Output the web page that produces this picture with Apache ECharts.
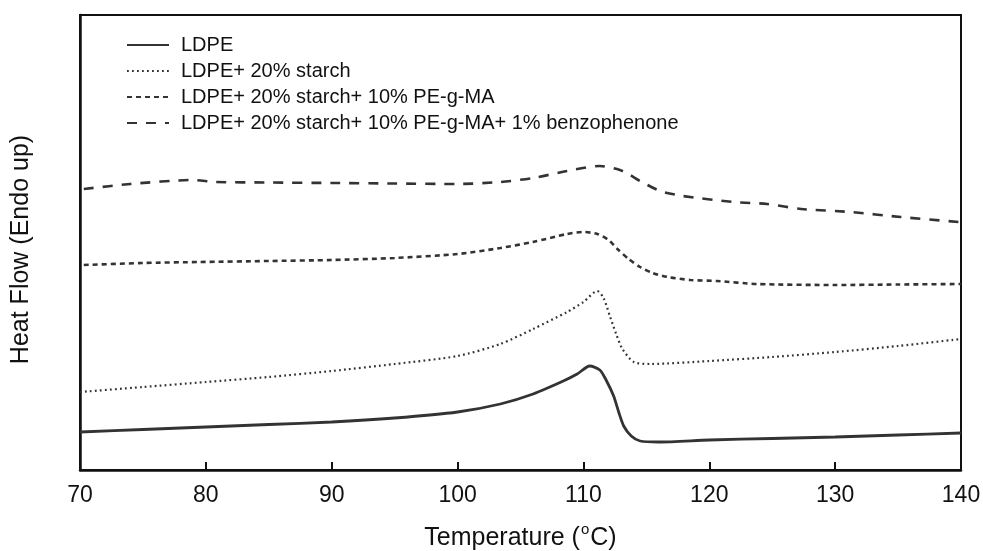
<!DOCTYPE html>
<html>
<head>
<meta charset="utf-8">
<script src="https://cdn.jsdelivr.net/npm/echarts@6/dist/echarts.min.js"></script>
<style>html,body{margin:0;padding:0;background:#fff}#c{width:983px;height:551px}</style>
</head>
<body>
<div id="c"></div>
<script>
const seriesNames = [
  'LDPE',
  'LDPE+ 20% starch',
  'LDPE+ 20% starch+ 10% PE-g-MA',
  'LDPE+ 20% starch+ 10% PE-g-MA+ 1% benzophenone'
];
const xTicks = [70, 80, 90, 100, 110, 120, 130, 140];

// [temperature (°C), heat flow (arbitrary units, endo up)]
const ldpe = [
  [70,38],[75,40.5],[80,43],[85,45.5],[90,48],[95,52],[100,58],[103.4,66],[106,76],
  [108.4,89],[109.5,96],[110.5,104],[111.3,100],[111.8,90],[112.4,74],[112.8,58],
  [113.2,44],[113.8,34],[114.5,29],[116,28],[120,30],[125,31.5],[130,33],[135,35],[140,37]
];
const starch = [
  [70,78],[75,83],[80,88],[85,93],[90,99],[95,106],[100,114],[103.4,126],[106,141],
  [108.7,158],[110,168],[111.1,179],[111.6,172],[112.1,154],[112.6,136],[113.1,121],
  [114,108],[115.3,106],[120,109],[125,113],[130,118],[135,124],[140,131]
];
const pegma = [
  [70.3,205],[75,207],[79.5,208],[85,209],[90,210],[95,212],[100,216],[103.4,222],[106,228],
  [108.7,236],[110,238],[111.1,236],[112,230],[112.7,221],[113.6,211],[114.5,203],
  [115.5,197],[116.7,193],[118.5,190],[120.6,189],[123.8,186],[130,185],[135,185.5],[140,186]
];
const benzo = [
  [70.3,281],[74,286],[78.9,290],[80.8,288],[85,287.5],[90,287],[95,286.5],[100,286],
  [103.4,288],[106,292],[108.7,299],[111.3,304],[112.9,300],[113.7,295],[114.5,289],
  [116.1,279],[117.9,274],[121.9,268],[124.6,266],[127.3,261],[131.2,258],[135.2,253],[139.8,248]
];

const dataSets = [ldpe, starch, pegma, benzo];
const styles = [
  {type:'solid', width:2.8, color:'#333'},
  {type:[1.8,3.2], width:2.2, color:'#333'},
  {type:[5,4], width:2.6, color:'#333'},
  {type:[10,9], width:2.6, color:'#333'}
];
const FONT = 'Liberation Sans, Arial, sans-serif';

const chart = echarts.init(document.getElementById('c'));
chart.setOption({
  animation: false,
  backgroundColor: '#fff',
  grid: {left: 80, right: 22, top: 15, bottom: 81, show: true, borderColor: '#111', borderWidth: 2,
    containLabel: false, outerBoundsMode: 'none'},
  legend: {
    orient: 'vertical', left: 121, top: 30, itemWidth: 42, itemHeight: 14, itemGap: 6,
    itemStyle: {opacity: 0},
    textStyle: {fontFamily: FONT, fontSize: 20, color: '#111', padding: [0, 0, 0, 7]},
    data: seriesNames
  },
  xAxis: {
    type: 'value', min: 70, max: 140, interval: 10,
    name: 'Temperature ({sup|o}C)',
    nameLocation: 'middle', nameGap: 52, nameMoveOverlap: false,
    nameTextStyle: {fontFamily: FONT, fontSize: 25, color: '#111',
      rich: {sup: {fontFamily: FONT, fontSize: 15, color: '#111', verticalAlign: 'top', padding: [0, 1, 18, 1]}}},
    axisLine: {lineStyle: {color: '#111', width: 2.5}},
    axisTick: {inside: true, length: 8, lineStyle: {color: '#111', width: 2}},
    axisLabel: {fontFamily: FONT, fontSize: 23, color: '#111', margin: 14,
      formatter: v => xTicks.includes(v) ? String(v) : ''},
    splitLine: {show: false}
  },
  yAxis: {
    type: 'value', min: 0, max: 455,
    name: 'Heat Flow (Endo up)',
    nameLocation: 'middle', nameGap: 46, nameMoveOverlap: false,
    nameTextStyle: {fontFamily: FONT, fontSize: 25, color: '#111', padding: [0, 14, 0, 0]},
    axisLine: {show: true, lineStyle: {color: '#111', width: 2.5}},
    axisTick: {show: false},
    axisLabel: {show: false},
    splitLine: {show: false}
  },
  series: dataSets.map((d, i) => ({
    name: seriesNames[i],
    type: 'line',
    data: d,
    symbol: 'none',
    smooth: 0.25,
    lineStyle: styles[i],
    itemStyle: {color: styles[i].color}
  }))
});
</script>
</body>
</html>
